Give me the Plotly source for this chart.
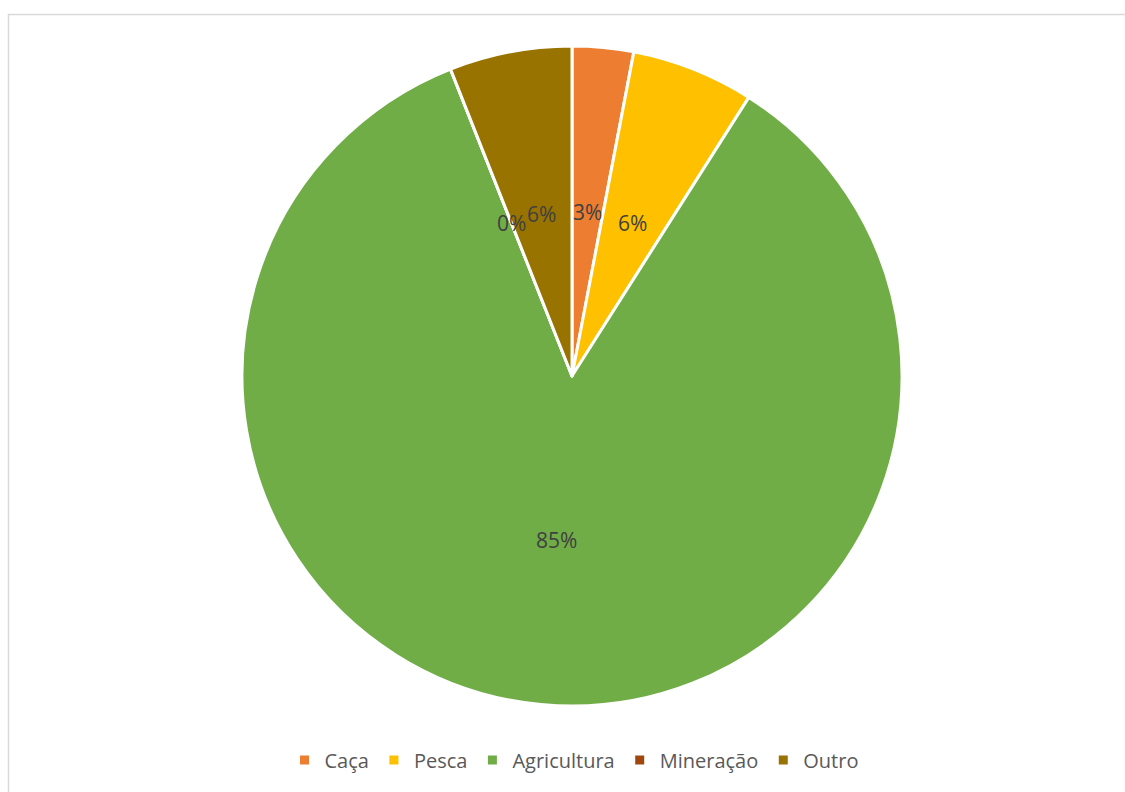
import math
import plotly.graph_objects as go

# Share of each activity (percent)
categories = ["Caça", "Pesca", "Agricultura", "Mineração", "Outro"]
values = [3, 6, 85, 0, 6]
colors = ["#ED7D31", "#FFC000", "#70AD47", "#9E480E", "#997300"]

W, H = 1125, 792
cx, cy, R = 572, 376, 330  # pie centre and radius in pixels
FONT = "Open Sans, Noto Sans, sans-serif"

dom_x = [(cx - R) / W, (cx + R) / W]
dom_y = [1 - (cy + R) / H, 1 - (cy - R) / H]

fig = go.Figure(
    go.Pie(
        labels=categories,
        values=values,
        sort=False,
        direction="clockwise",
        rotation=0,
        marker=dict(colors=colors, line=dict(color="white", width=3)),
        textinfo="none",
        hoverinfo="label+percent",
        domain=dict(x=dom_x, y=dom_y),
    )
)

# Percentage labels placed at half radius along each slice's mid-angle
total = sum(values)
cum = 0
annotations = []
for cat, v in zip(categories, values):
    mid = (cum + v / 2) / total * 2 * math.pi
    cum += v
    px = cx + 0.5 * R * math.sin(mid)
    py = cy - 0.5 * R * math.cos(mid)
    annotations.append(
        dict(
            x=px / W,
            y=1 - py / H,
            xref="paper",
            yref="paper",
            xanchor="center",
            yanchor="middle",
            text=f"{round(v / total * 100)}%",
            showarrow=False,
            font=dict(family=FONT, size=21, color="#404040"),
        )
    )

fig.update_layout(
    width=W,
    height=H,
    margin=dict(l=0, r=0, t=0, b=0),
    paper_bgcolor="white",
    plot_bgcolor="white",
    showlegend=True,
    legend=dict(
        orientation="h",
        x=574 / W,
        xanchor="center",
        y=1 - 760 / H,
        yanchor="middle",
        font=dict(family=FONT, size=20, color="#595959"),
    ),
    annotations=annotations,
    shapes=[
        dict(
            type="rect",
            xref="paper",
            yref="paper",
            x0=8.5 / W,
            x1=1.02,
            y0=-0.02,
            y1=1 - 14.5 / H,
            line=dict(color="#D9D9D9", width=1.5),
        )
    ],
)

fig.write_html("out.html")
